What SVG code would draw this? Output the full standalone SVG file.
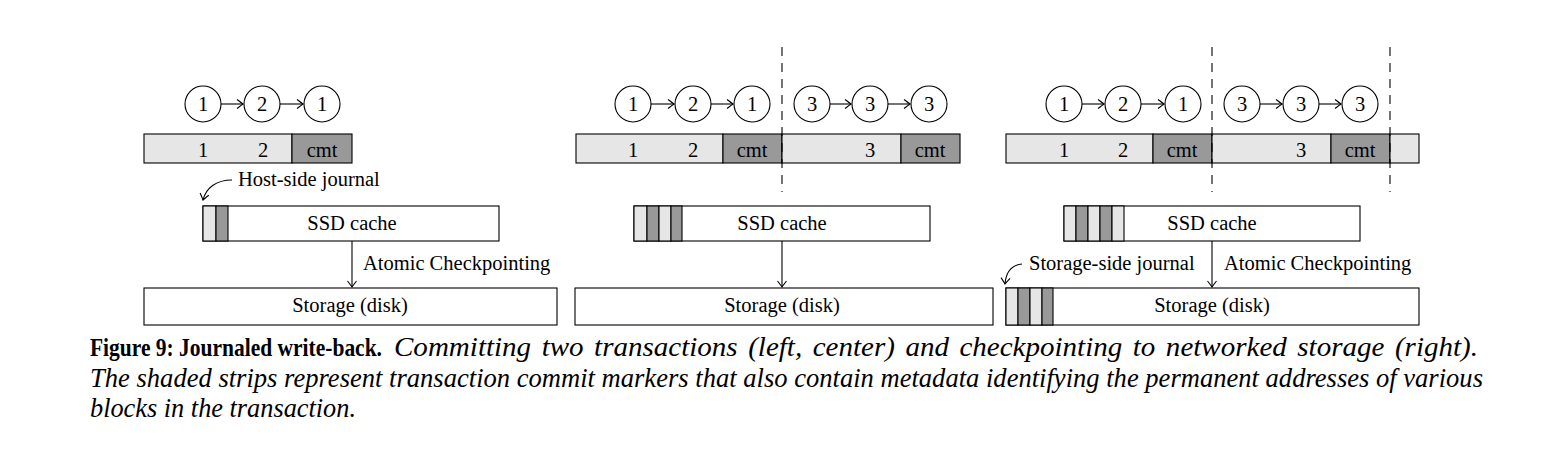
<svg xmlns="http://www.w3.org/2000/svg" width="1564" height="460" viewBox="0 0 1564 460">
<style>
text{font-family:"Liberation Serif","Times New Roman",serif;fill:#000}
.t{font-size:20.5px}
.m{text-anchor:middle}
.circ{fill:#fff;stroke:#000;stroke-width:1.1}
.box{fill:#fff;stroke:#000;stroke-width:1.1}
.lt{fill:#e6e6e6;stroke:#000;stroke-width:1.1}
.dk{fill:#999;stroke:#000;stroke-width:1.1}
.ln{fill:none;stroke:#000;stroke-width:1.1}
.dash{fill:none;stroke:#000;stroke-width:1.1;stroke-dasharray:9 7}
.capb{font-size:25px;font-weight:bold}
.capi{font-size:27px;font-style:italic}
</style>
<defs>
<marker id="ah" markerWidth="12" markerHeight="12" viewBox="-8 -6 10 12" refX="0" refY="0" orient="auto" markerUnits="userSpaceOnUse">
<path d="M-6,-4.5 Q-1.5,-1 0,0 Q-1.5,1 -6,4.5" fill="none" stroke="#000" stroke-width="1.1"/>
</marker>
</defs>

<!-- Panel 1 -->
<g id="p1-bar">
<rect class="lt" x="144" y="134" width="148" height="29"/>
<rect class="dk" x="292" y="134" width="60" height="29"/>
<text class="t m" x="203" y="157">1</text>
<text class="t m" x="263" y="157">2</text>
<text class="t m" x="322" y="157">cmt</text>
</g>
<g id="p1-circles">
<circle class="circ" cx="203" cy="104" r="18"/><text class="t m" x="203" y="111">1</text>
<circle class="circ" cx="262" cy="104" r="18"/><text class="t m" x="262" y="111">2</text>
<circle class="circ" cx="322" cy="104" r="18"/><text class="t m" x="322" y="111">1</text>
</g>
<g id="p1-ssd">
<rect class="box" x="203" y="206" width="296" height="35"/>
<rect class="lt" x="203" y="206" width="13" height="35"/>
<rect class="dk" x="216" y="206" width="12" height="35"/>
<text class="t m" x="352" y="230">SSD cache</text>
</g>
<g id="p1-storage">
<rect class="box" x="144" y="288" width="413" height="37"/>
<text class="t m" x="350" y="312">Storage (disk)</text>
</g>
<g id="p1-labels">
<text class="t" x="238" y="186">Host-side journal</text>
<text class="t" x="363" y="270">Atomic Checkpointing</text>
</g>

<!-- Panel 2 -->
<g id="p2-bar">
<rect class="lt" x="576" y="134" width="147" height="29"/>
<rect class="dk" x="723" y="134" width="59" height="29"/>
<rect class="lt" x="782" y="134" width="119" height="29"/>
<rect class="dk" x="901" y="134" width="59" height="29"/>
<text class="t m" x="633" y="157">1</text>
<text class="t m" x="693" y="157">2</text>
<text class="t m" x="752" y="157">cmt</text>
<text class="t m" x="870" y="157">3</text>
<text class="t m" x="930" y="157">cmt</text>
</g>
<g id="p2-circles">
<circle class="circ" cx="633" cy="104" r="18"/><text class="t m" x="633" y="111">1</text>
<circle class="circ" cx="693" cy="104" r="18"/><text class="t m" x="693" y="111">2</text>
<circle class="circ" cx="752" cy="104" r="18"/><text class="t m" x="752" y="111">1</text>
<circle class="circ" cx="812" cy="104" r="18"/><text class="t m" x="812" y="111">3</text>
<circle class="circ" cx="870" cy="104" r="18"/><text class="t m" x="870" y="111">3</text>
<circle class="circ" cx="929" cy="104" r="18"/><text class="t m" x="929" y="111">3</text>
</g>
<g id="p2-ssd">
<rect class="box" x="634" y="206" width="296" height="35"/>
<rect class="lt" x="634" y="206" width="13" height="35"/>
<rect class="dk" x="647" y="206" width="12" height="35"/>
<rect class="lt" x="659" y="206" width="12" height="35"/>
<rect class="dk" x="671" y="206" width="11" height="35"/>
<text class="t m" x="782" y="230">SSD cache</text>
</g>
<g id="p2-storage">
<rect class="box" x="575" y="288" width="418" height="37"/>
<text class="t m" x="782" y="312">Storage (disk)</text>
</g>

<!-- Panel 3 -->
<g id="p3-bar">
<rect class="lt" x="1006" y="134" width="147" height="29"/>
<rect class="dk" x="1153" y="134" width="59" height="29"/>
<rect class="lt" x="1212" y="134" width="119" height="29"/>
<rect class="dk" x="1331" y="134" width="59" height="29"/>
<rect class="lt" x="1390" y="134" width="29" height="29"/>
<text class="t m" x="1064" y="157">1</text>
<text class="t m" x="1123" y="157">2</text>
<text class="t m" x="1182" y="157">cmt</text>
<text class="t m" x="1301" y="157">3</text>
<text class="t m" x="1360" y="157">cmt</text>
</g>
<g id="p3-circles">
<circle class="circ" cx="1064" cy="104" r="18"/><text class="t m" x="1064" y="111">1</text>
<circle class="circ" cx="1123" cy="104" r="18"/><text class="t m" x="1123" y="111">2</text>
<circle class="circ" cx="1183" cy="104" r="18"/><text class="t m" x="1183" y="111">1</text>
<circle class="circ" cx="1242" cy="104" r="18"/><text class="t m" x="1242" y="111">3</text>
<circle class="circ" cx="1301" cy="104" r="18"/><text class="t m" x="1301" y="111">3</text>
<circle class="circ" cx="1360" cy="104" r="18"/><text class="t m" x="1360" y="111">3</text>
</g>
<g id="p3-ssd">
<rect class="box" x="1064" y="206" width="296" height="35"/>
<rect class="lt" x="1064" y="206" width="12" height="35"/>
<rect class="dk" x="1076" y="206" width="12" height="35"/>
<rect class="lt" x="1088" y="206" width="12" height="35"/>
<rect class="dk" x="1100" y="206" width="12" height="35"/>
<rect class="lt" x="1112" y="206" width="12" height="35"/>
<text class="t m" x="1212" y="230">SSD cache</text>
</g>
<g id="p3-storage">
<rect class="box" x="1006" y="288" width="413" height="37"/>
<rect class="lt" x="1006" y="288" width="12" height="37"/>
<rect class="dk" x="1018" y="288" width="12" height="37"/>
<rect class="lt" x="1030" y="288" width="12" height="37"/>
<rect class="dk" x="1042" y="288" width="11" height="37"/>
<text class="t m" x="1212" y="312">Storage (disk)</text>
</g>
<g id="p3-labels">
<text class="t" x="1029" y="270">Storage-side journal</text>
<text class="t" x="1224" y="270">Atomic Checkpointing</text>
</g>

<!-- Connectors -->
<g id="connectors">
<line class="ln" x1="221" y1="104" x2="243" y2="104" marker-end="url(#ah)"/>
<line class="ln" x1="280" y1="104" x2="303" y2="104" marker-end="url(#ah)"/>
<line class="ln" x1="651" y1="104" x2="674" y2="104" marker-end="url(#ah)"/>
<line class="ln" x1="711" y1="104" x2="733" y2="104" marker-end="url(#ah)"/>
<line class="ln" x1="830" y1="104" x2="851" y2="104" marker-end="url(#ah)"/>
<line class="ln" x1="888" y1="104" x2="910" y2="104" marker-end="url(#ah)"/>
<line class="ln" x1="1082" y1="104" x2="1104" y2="104" marker-end="url(#ah)"/>
<line class="ln" x1="1141" y1="104" x2="1164" y2="104" marker-end="url(#ah)"/>
<line class="ln" x1="1260" y1="104" x2="1282" y2="104" marker-end="url(#ah)"/>
<line class="ln" x1="1319" y1="104" x2="1341" y2="104" marker-end="url(#ah)"/>
<line class="ln" x1="352" y1="241" x2="352" y2="287" marker-end="url(#ah)"/>
<line class="ln" x1="782" y1="241" x2="782" y2="287" marker-end="url(#ah)"/>
<line class="ln" x1="1212" y1="241" x2="1212" y2="287" marker-end="url(#ah)"/>
<path class="ln" d="M232,180 C216,180 206,188 203,200" marker-end="url(#ah)"/>
<path class="ln" d="M1022,264 C1012,265 1006,272 1005,284" marker-end="url(#ah)"/>
<line class="dash" x1="782" y1="47" x2="782" y2="192"/>
<line class="dash" x1="1212" y1="47" x2="1212" y2="192"/>
<line class="dash" x1="1390" y1="47" x2="1390" y2="192"/>
</g>

<!-- Caption -->
<g id="caption">
<text class="capb" transform="translate(90,356) scale(0.86,1)" x="0" y="0">Figure 9: Journaled write-back.</text>
<text class="capi" x="394" y="356" word-spacing="3" textLength="1084" lengthAdjust="spacingAndGlyphs">Committing two transactions (left, center) and checkpointing to networked storage (right).</text>
<text class="capi" x="90" y="387" textLength="1393" lengthAdjust="spacingAndGlyphs">The shaded strips represent transaction commit markers that also contain metadata identifying the permanent addresses of various</text>
<text class="capi" x="90" y="417" textLength="266" lengthAdjust="spacingAndGlyphs">blocks in the transaction.</text>
</g>
</svg>
